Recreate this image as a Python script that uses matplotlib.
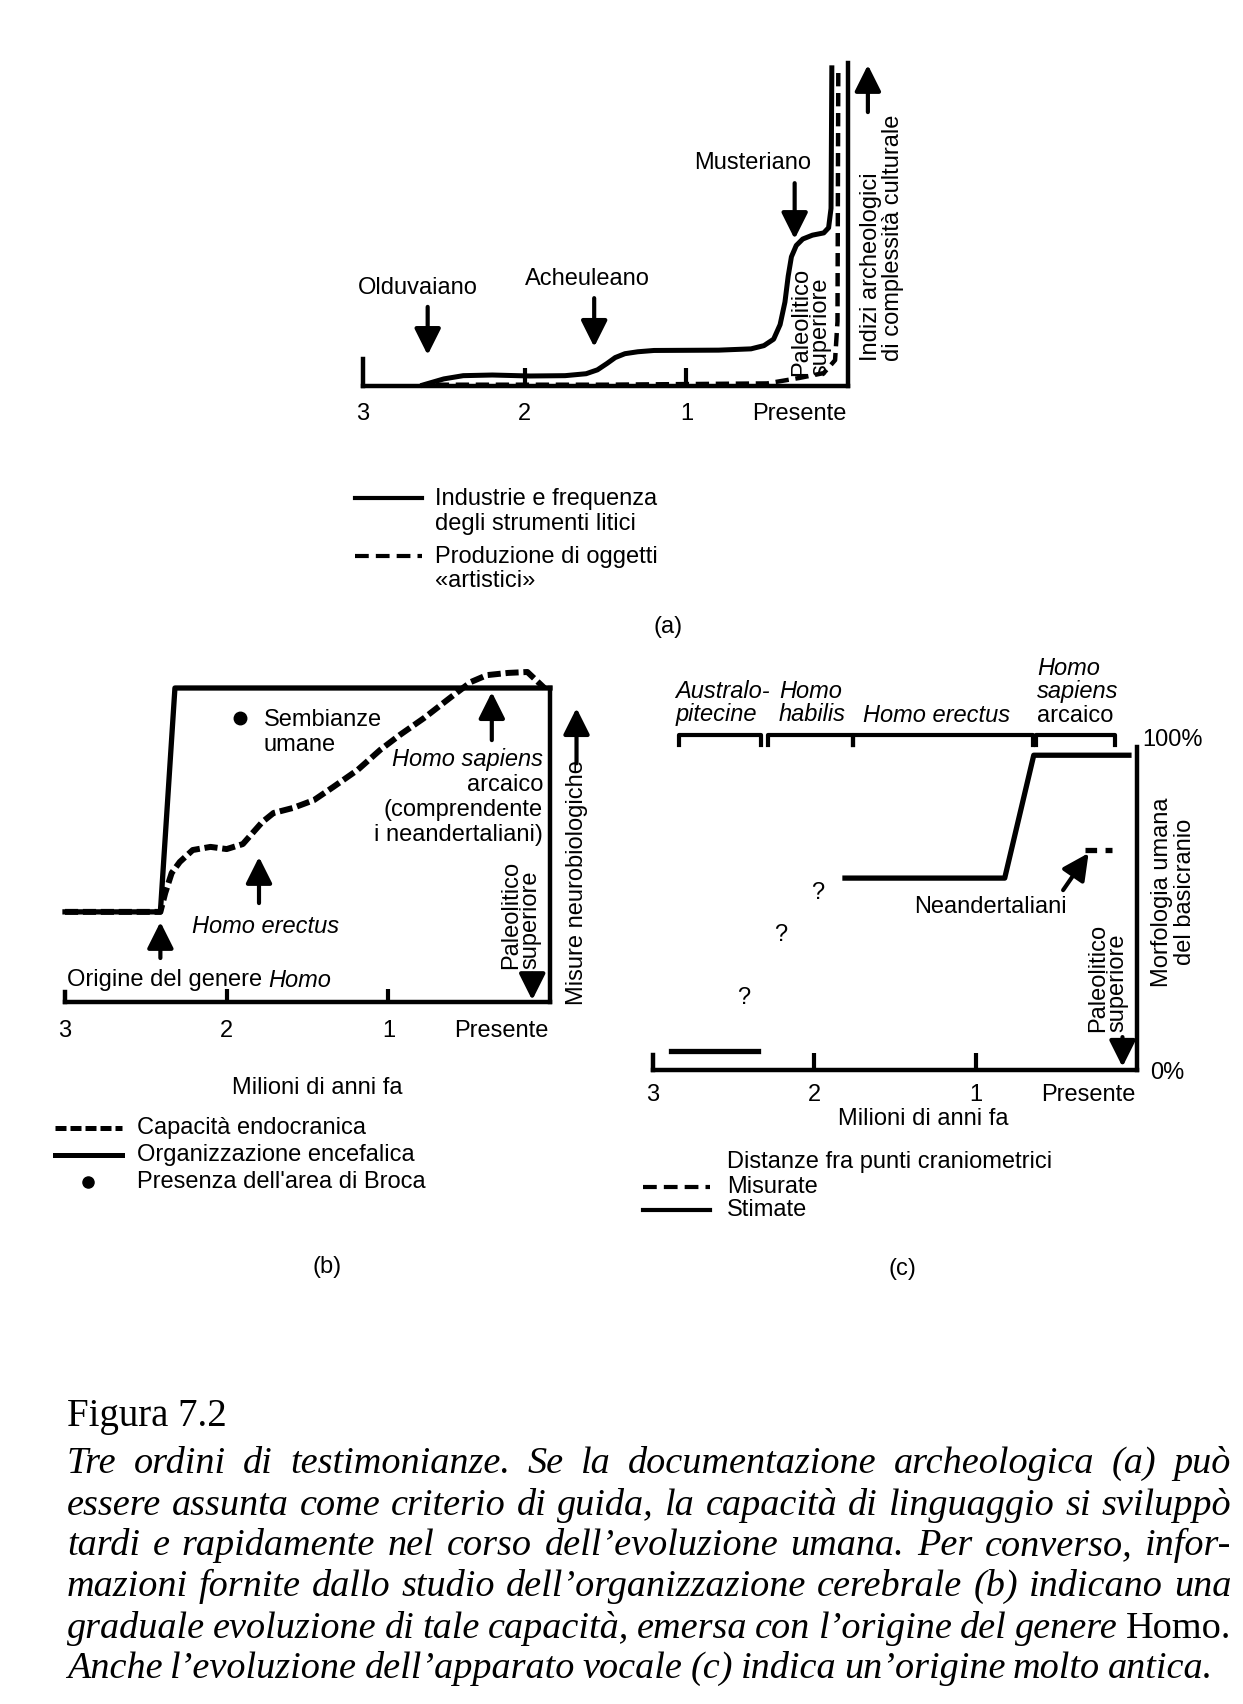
import matplotlib
matplotlib.use("Agg")
import matplotlib.pyplot as plt

plt.rcParams["font.family"] = ["Liberation Sans", "DejaVu Sans"]
plt.rcParams["font.size"] = 17

W, H = 1243, 1704

# asse comune: milioni di anni fa
tick_anni = [3, 2, 1, 0.3]
tick_etichette = ["3", "2", "1", "Presente"]

# (a) documentazione archeologica
a_litici_x = [2.63, 2.50, 2.38, 2.20, 1.97, 1.75, 1.62, 1.55, 1.49, 1.44, 1.38, 1.30, 1.20,
              0.80, 0.60, 0.52, 0.46, 0.42, 0.39, 0.37, 0.35, 0.32, 0.28, 0.22, 0.15, 0.12,
              0.105, 0.10]
a_litici_y = [0.3, 2.2, 3.2, 3.4, 3.1, 3.2, 3.8, 5.0, 7.0, 8.8, 10.0, 10.6, 11.0,
              11.1, 11.5, 12.5, 14.5, 19.0, 26.0, 34.0, 40.0, 43.5, 45.5, 46.7, 47.4, 49.0,
              55.0, 98.5]
a_arte_x = [2.55, 1.50, 0.50, 0.30, 0.15, 0.08, 0.065, 0.06]
a_arte_y = [0.4, 0.4, 0.8, 2.5, 4.0, 8.0, 20.0, 98.5]
a_industrie = ["Olduvaiano", "Acheuleano", "Musteriano"]
a_industrie_x = [2.60, 1.57, 0.33]

# (b) organizzazione cerebrale
b_encef_x = [3.0, 2.41, 2.32, 0.0]
b_encef_y = [28.7, 28.7, 100.0, 100.0]
b_endocr_x = [3.0, 2.41, 2.38, 2.34, 2.29, 2.21, 2.10, 2.00, 1.90, 1.84, 1.78, 1.71, 1.59,
              1.46, 1.34, 1.19, 1.05, 0.93, 0.78, 0.62, 0.49, 0.39, 0.26, 0.14, 0.08, 0.035]
b_endocr_y = [28.7, 28.7, 34.7, 41.1, 44.6, 48.4, 49.4, 48.7, 50.3, 53.8, 57.3, 60.2, 61.8,
              64.3, 68.5, 73.9, 80.3, 85.0, 90.4, 96.8, 101.9, 104.1, 104.8, 105.1, 102.2, 100.0]
b_broca_x = [1.92]
b_broca_y = [90.4]

# (c) apparato vocale, morfologia del basicranio (%)
c_stimate = [([2.89, 2.35], [6.0, 6.0]),
             ([1.81, 0.82, 0.64, 0.05], [60.6, 60.6, 99.4, 99.4])]
c_misurate_x = [0.32, 0.155]
c_misurate_y = [69.5, 69.5]
c_dubbi_x = [2.44, 2.21, 1.98]
c_dubbi_y = [22.7, 42.6, 55.9]
c_specie = ["Australo-\npitecine", "Homo\nhabilis", "Homo erectus", "Homo\nsapiens"]
c_specie_da = [2.84, 2.29, 1.76, 0.625]
c_specie_a = [2.33, 1.76, 0.644, 0.136]

didascalia = [
    "Tre ordini di testimonianze. Se la documentazione archeologica (a) può",
    "essere assunta come criterio di guida, la capacità di linguaggio si sviluppò",
    "tardi e rapidamente nel corso dell’evoluzione umana. Per converso, infor-",
    "mazioni fornite dallo studio dell’organizzazione cerebrale (b) indicano una",
    "graduale evoluzione di tale capacità, emersa con l’origine del genere |Homo.",
    "Anche l’evoluzione dell’apparato vocale (c) indica un’origine molto antica.",
]

fig = plt.figure(figsize=(W / 100, H / 100), dpi=100)
ov = fig.add_axes([0, 0, 1, 1])
ov.set_xlim(0, W)
ov.set_ylim(H, 0)
ov.axis("off")
rend = fig.canvas.get_renderer()


def pannello(sx, dx, alto, basso, ymax, stub, tlen, pad):
    ax = fig.add_axes([sx / W, 1 - basso / H, (dx - sx) / W, (basso - alto) / H])
    ax.set_xlim(3, 0)
    ax.set_ylim(0, ymax)
    ax.patch.set_visible(False)
    ax.spines["top"].set_visible(False)
    for s in ["left", "bottom", "right"]:
        ax.spines[s].set_linewidth(3.2)
        ax.spines[s].set_capstyle("projecting")
    ax.spines["left"].set_bounds(0, stub)
    ax.set_yticks([])
    ax.set_xticks(tick_anni, tick_etichette)
    ax.tick_params(axis="x", direction="in", length=tlen, width=3, pad=pad,
                   labelsize=17)
    ax.xaxis.get_major_ticks()[0].tick1line.set_visible(False)
    ax.xaxis.get_major_ticks()[3].tick1line.set_visible(False)
    return ax


def freccia(ax, x, coda, punta, lw=3, scala=20):
    ax.annotate("", xy=(x, punta), xytext=(x, coda), annotation_clip=False,
                arrowprops=dict(arrowstyle="-|>,head_length=0.8,head_width=0.4",
                                lw=lw, color="black", mutation_scale=scala,
                                shrinkA=0, shrinkB=0))


# ---------- (a)
ax = pannello(363, 848, 63, 386, 100, 8.4, 13, 12)
ax.plot(a_litici_x, a_litici_y, color="black", lw=3.6, solid_joinstyle="round",
        clip_on=False)
ax.plot(a_arte_x, a_arte_y, color="black", lw=3.2, linestyle=(0, (3.0, 1.5)),
        clip_on=False)
code_a = [24.5, 27.2, 62.8]
punte_a = [9.6, 12.1, 45.5]
etich_a = [(2.66, 30.3), (1.61, 33.1), (0.59, 69.0)]
for nome, x, c0, p0, (tx, ty) in zip(a_industrie, a_industrie_x, code_a, punte_a, etich_a):
    freccia(ax, x, c0, p0)
    ax.text(tx, ty, nome, ha="center", va="center")
ax.text(0.23, 19.8, "Paleolitico\nsuperiore", rotation=90, ha="center", va="center",
        multialignment="left", linespacing=0.85)
ax.text(-0.21, 45.8, "Indizi archeologici\ndi complessità culturale", rotation=90,
        ha="center", va="center", multialignment="left", linespacing=1.05)
freccia(ax, -0.123, 84.8, 99.4)

ov.plot([355, 422], [498, 498], color="black", lw=3)
ov.plot([355, 422], [556, 556], color="black", lw=3, linestyle=(0, (3.3, 1.7)))
ov.text(435, 499, "Industrie e frequenza", va="center")
ov.text(435, 524, "degli strumenti litici", va="center")
ov.text(435, 557, "Produzione di oggetti", va="center")
ov.text(435, 581, "«artistici»", va="center")
ov.text(668, 627, "(a)", ha="center", va="center")

# ---------- (b)
ax = pannello(65, 550, 688, 1002, 100, 3.2, 9.5, 13)
ax.plot(b_encef_x, b_encef_y, color="black", lw=3.8, clip_on=False)
ax.plot(b_endocr_x, b_endocr_y, color="black", lw=4.3, linestyle=(0, (2.2, 0.8)),
        clip_on=False)
ax.plot(b_broca_x, b_broca_y, "o", color="black", ms=9)
ax.text(1.77, 89.8, "Sembianze", va="center")
ax.text(1.77, 81.8, "umane", va="center")
freccia(ax, 0.36, 83.4, 98.7)
ax.text(0.044, 77.1, "Homo sapiens", style="italic", ha="right", va="center")
for testo, y in zip(["arcaico", "(comprendente", "i neandertaliani)"], [69.1, 61.1, 53.2]):
    ax.text(0.044, y, testo, ha="right", va="center")
freccia(ax, 1.80, 31.5, 46.2)
ax.text(1.76, 23.9, "Homo erectus", style="italic", ha="center", va="center")
freccia(ax, 2.41, 14.0, 25.5)
t_or = ax.text(2.99, 7.0, "Origine del genere ", va="center")
bb = t_or.get_window_extent(rend)
x_homo = ax.transData.inverted().transform((bb.x1, bb.y0))[0]
ax.text(x_homo, 7.0, "Homo", style="italic", va="center")
ax.text(0.18, 27.7, "Paleolitico\nsuperiore", rotation=90, ha="center", va="center",
        multialignment="left", linespacing=0.85)
freccia(ax, 0.11, 9.0, 0.6)
ax.text(-0.164, 37.9, "Misure neurobiologiche", rotation=90, ha="center", va="center")
freccia(ax, -0.164, 76.0, 93.6)

ov.text(317, 1088, "Milioni di anni fa", ha="center", va="center")
ov.plot([55, 122], [1128, 1128], color="black", lw=3.6, linestyle=(0, (2.2, 0.8)))
ov.plot([55, 122], [1155, 1155], color="black", lw=3.6)
ov.plot([88], [1182], "o", color="black", ms=8)
ov.text(137, 1128, "Capacità endocranica", va="center")
ov.text(137, 1155, "Organizzazione encefalica", va="center")
ov.text(137, 1182, "Presenza dell'area di Broca", va="center")
ov.text(327, 1267, "(b)", ha="center", va="center")

# ---------- (c)
ax = pannello(653, 1137, 747, 1070, 102, 4.7, 12, 10)
for xs, ys in c_stimate:
    ax.plot(xs, ys, color="black", lw=3.8, clip_on=False)
ax.plot(c_misurate_x, c_misurate_y, color="black", lw=3.8, linestyle=(0, (2.2, 1.6)),
        clip_on=False)
for x, y in zip(c_dubbi_x, c_dubbi_y):
    ax.text(x, y, "?", ha="center", va="center")
for x1, x2 in zip(c_specie_da, c_specie_a):
    ax.plot([x1, x1, x2, x2], [102.6, 105.8, 105.8, 102.6], color="black", lw=3,
            clip_on=False)
ax.text(2.86, 116.0, c_specie[0], style="italic", ha="left", va="center", linespacing=1.0)
ax.text(2.22, 116.0, c_specie[1], style="italic", ha="left", va="center", linespacing=1.0)
ax.text(1.70, 112.1, c_specie[2], style="italic", ha="left", va="center")
ax.text(0.62, 123.3, c_specie[3], style="italic", ha="left", va="center", linespacing=1.0)
ax.text(0.62, 111.8, "arcaico", ha="left", va="center")
ax.annotate("", xy=(0.30, 68.5), xytext=(0.458, 56.8), annotation_clip=False,
            arrowprops=dict(arrowstyle="-|>,head_length=0.8,head_width=0.4", lw=3,
                            color="black", mutation_scale=20, shrinkA=0, shrinkB=0))
ax.text(0.91, 51.4, "Neandertaliani", ha="center", va="center")
ax.text(0.18, 29.0, "Paleolitico\nsuperiore", rotation=90, ha="center", va="center",
        multialignment="left", linespacing=0.85)
freccia(ax, 0.09, 10.4, 1.0)
ax.text(-0.03, 104.2, "100%", ha="left", va="center")
ax.text(-0.08, -0.9, "0%", ha="left", va="center")
ax.text(-0.224, 56.2, "Morfologia umana\ndel basicranio", rotation=90, ha="center",
        va="center", multialignment="center", linespacing=1.05)

ov.text(923, 1119, "Milioni di anni fa", ha="center", va="center")
ov.text(727, 1162, "Distanze fra punti craniometrici", va="center")
ov.plot([643, 710], [1187, 1187], color="black", lw=3, linestyle=(0, (3.3, 1.7)))
ov.plot([643, 710], [1210, 1210], color="black", lw=3)
ov.text(727, 1187, "Misurate", va="center")
ov.text(727, 1210, "Stimate", va="center")
ov.text(902, 1269, "(c)", ha="center", va="center")

# ---------- didascalia (giustificata)
serif = ["Liberation Serif", "DejaVu Serif"]
ov.text(67, 1426, "Figura 7.2", fontsize=28, family=serif, va="baseline")
x0, x1 = 67, 1231
basi = [1473, 1515, 1555, 1596, 1638, 1678]


def parole_di(riga):
    out = []
    for w in riga.split(" "):
        out.append((w[1:], "normal") if w.startswith("|") else (w, "italic"))
    return out


def larghezze(parole, size):
    ws = []
    for testo, stile in parole:
        t = ov.text(0, 0, testo, fontsize=size, family=serif, style=stile)
        ws.append(t.get_window_extent(rend).width)
        t.remove()
    return ws


size = 31.0
while size > 18:
    ok = True
    for riga in didascalia[:-1]:
        p = parole_di(riga)
        ws = larghezze(p, size)
        gap = (x1 - x0 - sum(ws)) / (len(p) - 1)
        if gap < size * 100 / 72 * 0.2:
            ok = False
            break
    if ok:
        break
    size -= 0.5

for i, (riga, base) in enumerate(zip(didascalia, basi)):
    p = parole_di(riga)
    ws = larghezze(p, size)
    if i == len(didascalia) - 1:
        gap = size * 100 / 72 * 0.2
    else:
        gap = (x1 - x0 - sum(ws)) / (len(p) - 1)
    x = x0
    for (testo, stile), w in zip(p, ws):
        ov.text(x, base, testo, fontsize=size, family=serif, style=stile, va="baseline")
        x += w + gap

fig.savefig("out.png", dpi=100)
